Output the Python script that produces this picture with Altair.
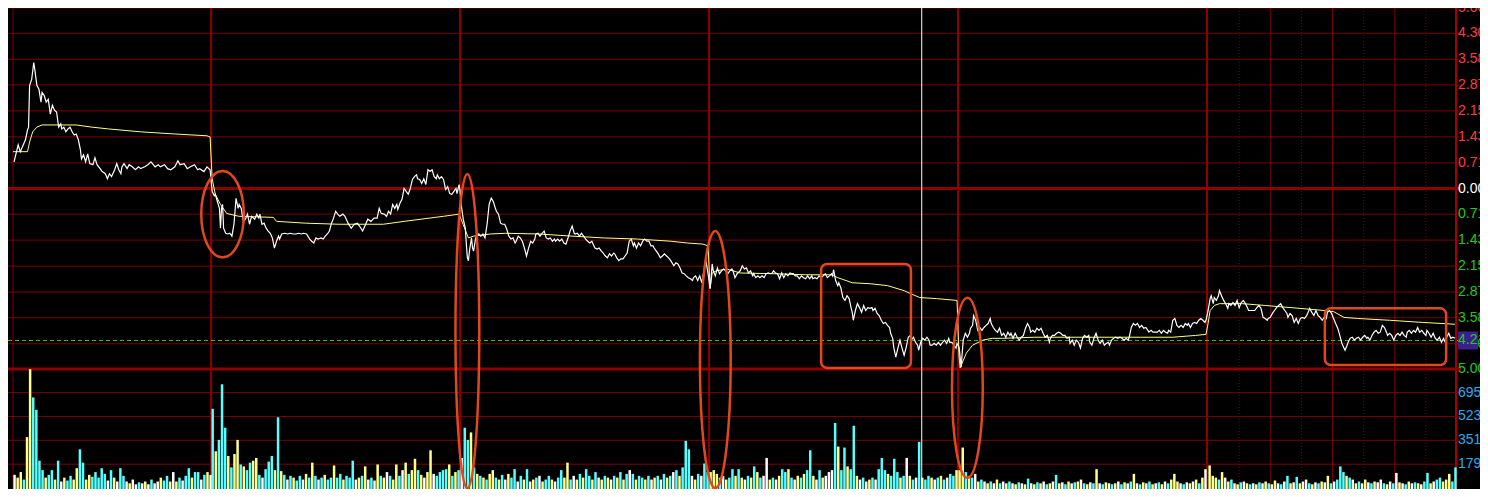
import altair as alt
import pandas as pd

# ------------------------------------------------------------------ data
SESSION_END = 1391                      # minutes shown (6 sessions, first one partial)
DAY_BREAKS = [191, 431, 671, 911, 1151]
LAST_DAY_SOLID = [1212, 1272, 1332]      # half-hour marks of the last session
LAST_DAY_DOTTED = [1182, 1242, 1302, 1362]
CURSOR_MINUTE = 876
LAST_PCT = -4.21

PRICE_TICKS = [5.0, 4.30, 3.58, 2.87, 2.15, 1.43, 0.71, 0.0,
               -0.71, -1.43, -2.15, -2.87, -3.58, -4.30, -5.0]
VOL_TICKS = [179, 351, 523, 695]

# price (% change) : (minute, pct)
P1 = [(1,0.74),(5,1.21),(7,1.02),(9,1.15),(12,1.35),(14,1.62),(15,1.70),(16,2.86),(18,3.02),(20,3.49),
      (21,3.30),(23,2.86),(25,2.75),(27,2.39),(28,2.66),(30,2.58),(32,2.39),(34,2.47),(36,2.06),(38,2.31),
      (40,2.17),(42,2.12),(44,1.70),(46,1.79),(47,1.65),(49,1.70),(51,1.57),(53,1.65),(55,1.70),(57,1.57),
      (59,1.48),(61,1.51),(63,1.35),(65,1.07),(66,0.82),(68,0.93),(70,0.74),(72,0.96),(74,0.69),(77,0.66),
      (79,0.85),(81,0.66),(84,0.55),(86,0.47),(89,0.41),(91,0.27),(93,0.41),(95,0.33),(98,0.52),(100,0.69),
      (102,0.52),(104,0.41),(105,0.60),(107,0.69),(110,0.55),(112,0.66),(115,0.60),(118,0.52),(121,0.60),
      (123,0.55),(127,0.60),(130,0.66),(133,0.74),(137,0.60),(140,0.66),(142,0.60),(146,0.66),(149,0.55),
      (152,0.52),(156,0.60),(159,0.77),(161,0.66),(165,0.69),(168,0.55),(171,0.60),(175,0.66),(178,0.52),
      (180,0.55),(184,0.47),(187,0.60),(190,0.52)]
P2 = [(192,-0.08),(194,-0.20),(195,-0.16),(197,-0.36),(199,-0.55),(200,-1.10),(201,-0.55),(202,-0.44),
      (203,-1.10),(205,-1.24),(207,-1.26),(209,-1.24),(211,-1.32),(213,-0.99),(215,-0.27),(217,-0.55),
      (218,-0.44),(220,-0.55),(222,-0.91),(224,-0.85),(226,-0.71),(228,-0.99),(230,-0.77),(233,-0.85),
      (235,-0.71),(237,-0.82),(238,-0.71),(240,-0.99),(242,-0.96),(244,-1.10),(246,-1.18),(248,-1.24),
      (250,-1.37),(252,-1.65),(254,-1.46),(256,-1.32),(257,-1.40),(259,-1.26),(262,-1.24),(265,-1.26),
      (267,-1.24),(270,-1.26),(273,-1.26),(275,-1.24),(278,-1.26),(280,-1.24),(283,-1.26),(286,-1.40),
      (288,-1.46),(290,-1.51),(292,-1.37),(294,-1.40),(297,-1.37),(299,-1.40),(301,-1.32),(303,-1.26),
      (305,-1.18),(307,-0.96),(309,-0.82),(311,-0.63),(313,-0.71),(315,-0.77),(318,-0.71),(320,-0.77),
      (323,-0.96),(326,-1.10),(329,-0.99),(332,-0.96),(334,-1.04),(337,-1.18),(340,-0.99),(342,-0.85),
      (345,-0.91),(348,-0.82),(351,-0.82),(353,-0.55),(355,-0.69),(358,-0.71),(360,-0.77),(362,-0.63),
      (364,-0.71),(366,-0.44),(368,-0.55),(370,-0.44),(371,-0.58),(373,-0.41),(375,-0.30),(377,0.0),
      (379,-0.08),(381,-0.16),(383,0.0),(385,0.25),(387,0.33),(389,0.38),(390,0.27),(392,0.25),(394,0.14),
      (396,0.27),(398,0.11),(400,0.52),(402,0.47),(404,0.52),(406,0.33),(408,0.27),(409,0.38),(411,0.27),
      (413,0.33),(415,0.25),(417,-0.03),(419,0.05),(421,-0.14),(423,-0.16),(425,-0.08),(427,0.0),
      (428,-0.14),(430,0.11)]
P3 = [(431,-0.08),(432,-0.44),(434,-0.85),(436,-1.10),(437,-1.54),(438,-1.92),(439,-2.00),(440,-1.73),
      (442,-1.37),(443,-1.65),(444,-1.73),(446,-1.37),(447,-1.32),(449,-1.26),(451,-1.32),(453,-1.26),
      (455,-1.37),(457,-0.99),(459,-0.44),(461,-0.27),(463,-0.36),(465,-0.55),(466,-0.63),(468,-0.71),
      (470,-0.96),(472,-0.99),(474,-0.99),(476,-1.13),(478,-1.32),(480,-1.40),(482,-1.37),(484,-1.51),
      (485,-1.46),(487,-1.32),(489,-1.37),(491,-1.46),(493,-1.65),(495,-1.87),(497,-1.65),(499,-1.46),
      (501,-1.51),(503,-1.40),(504,-1.26),(506,-1.24),(508,-1.32),(510,-1.24),(512,-1.18),(514,-1.37),
      (516,-1.40),(518,-1.37),(520,-1.46),(522,-1.40),(523,-1.46),(525,-1.40),(527,-1.46),(529,-1.40),
      (531,-1.51),(533,-1.54),(535,-1.37),(537,-1.18),(539,-1.04),(541,-1.24),(542,-1.26),(544,-1.24),
      (546,-1.32),(548,-1.24),(550,-1.32),(552,-1.40),(554,-1.46),(556,-1.51),(558,-1.46),(560,-1.59),
      (561,-1.65),(563,-1.68),(565,-1.65),(567,-1.73),(569,-1.79),(571,-1.87),(573,-1.92),(575,-1.81),
      (577,-1.87),(579,-1.79),(580,-1.81),(582,-1.92),(584,-2.00),(586,-1.95),(588,-1.95),(590,-1.87),
      (592,-1.79),(594,-1.46),(596,-1.40),(598,-1.59),(599,-1.51),(601,-1.65),(603,-1.51),(605,-1.59),
      (607,-1.46),(609,-1.40),(611,-1.46),(613,-1.46),(615,-1.59),(617,-1.59),(618,-1.65),(620,-1.73),
      (622,-1.81),(624,-1.92),(626,-1.87),(628,-1.81),(630,-1.87),(632,-1.92),(634,-2.00),(636,-2.09),
      (637,-2.14),(639,-2.06),(641,-2.09),(643,-2.20),(645,-2.34),(647,-2.36),(649,-2.42),(651,-2.47),
      (653,-2.50),(655,-2.55),(656,-2.47),(658,-2.42),(660,-2.55),(662,-2.42),(664,-2.61),(666,-2.28),
      (668,-2.00),(670,-2.36)]
P4 = [(672,-2.77),(674,-2.09),(675,-2.28),(677,-2.42),(679,-2.20),(681,-2.36),(683,-2.28),(685,-2.23),
      (687,-2.28),(689,-2.36),(691,-2.28),(693,-2.23),(694,-2.28),(696,-2.47),(698,-2.36),(701,-2.28),
      (703,-2.14),(705,-2.23),(707,-2.20),(709,-2.34),(711,-2.28),(713,-2.42),(714,-2.36),(716,-2.47),
      (718,-2.42),(720,-2.47),(722,-2.42),(724,-2.47),(726,-2.36),(728,-2.34),(730,-2.36),(732,-2.34),
      (733,-2.28),(735,-2.34),(737,-2.36),(739,-2.50),(741,-2.34),(743,-2.47),(745,-2.36),(747,-2.42),
      (749,-2.34),(751,-2.36),(752,-2.36),(754,-2.42),(756,-2.42),(758,-2.50),(760,-2.42),(762,-2.47),
      (764,-2.50),(766,-2.42),(768,-2.50),(770,-2.42),(771,-2.50),(773,-2.47),(775,-2.50),(777,-2.42),
      (779,-2.47),(781,-2.42),(783,-2.36),(785,-2.47),(787,-2.42),(789,-2.36),(790,-2.42),(791,-2.25),
      (793,-2.55),(795,-2.69),(796,-2.61),(798,-2.75),(800,-3.02),(802,-3.10),(804,-2.97),(806,-3.05),
      (808,-3.32),(809,-3.43),(810,-3.65),(812,-3.38),(814,-3.19),(816,-3.30),(818,-3.43),(820,-3.24),
      (822,-3.38),(824,-3.30),(826,-3.32),(828,-3.30),(829,-3.38),(831,-3.32),(833,-3.46),(835,-3.52),
      (837,-3.65),(839,-3.74),(841,-3.71),(843,-3.79),(845,-3.85),(846,-4.01),(848,-4.15),(849,-4.40),
      (851,-4.67),(853,-4.42),(855,-4.20),(857,-4.42),(859,-4.62),(861,-4.40),(863,-4.12),(865,-4.07),
      (866,-4.20),(868,-4.12),(870,-4.26),(872,-4.34),(873,-4.48),(875,-4.26),(877,-4.15),(879,-4.20),
      (881,-4.12),(883,-4.20),(884,-4.34),(886,-4.34),(888,-4.29),(890,-4.34),(892,-4.26),(894,-4.34),
      (896,-4.26),(898,-4.20),(900,-4.29),(902,-4.15),(903,-4.26),(905,-4.26),(907,-4.34),(909,-4.42),
      (910,-4.29)]
P5 = [(912,-4.40),(913,-4.67),(914,-4.95),(915,-4.56),(916,-4.20),(918,-4.01),(920,-4.12),(922,-4.01),
      (923,-3.87),(925,-3.79),(926,-3.52),(928,-3.65),(930,-3.93),(932,-3.85),(934,-3.93),(936,-3.85),
      (938,-3.79),(940,-3.74),(942,-3.60),(943,-3.74),(945,-3.85),(947,-3.93),(949,-3.98),(951,-3.87),
      (953,-4.07),(955,-4.01),(957,-4.12),(959,-3.98),(961,-4.07),(962,-4.01),(964,-4.15),(966,-4.01),
      (968,-4.12),(970,-4.20),(972,-4.12),(974,-4.07),(976,-3.87),(978,-3.74),(980,-3.85),(981,-3.98),
      (983,-3.93),(985,-3.98),(987,-3.87),(989,-3.93),(991,-3.87),(993,-4.01),(995,-4.12),(997,-4.07),
      (999,-4.26),(1000,-4.15),(1002,-4.07),(1004,-4.07),(1006,-4.01),(1008,-3.98),(1010,-4.01),
      (1012,-4.07),(1014,-4.07),(1016,-4.15),(1018,-4.12),(1019,-4.29),(1021,-4.20),(1023,-4.34),
      (1025,-4.20),(1027,-4.26),(1029,-4.42),(1031,-4.15),(1033,-4.07),(1035,-4.12),(1037,-4.07),
      (1038,-4.26),(1040,-4.34),(1042,-4.15),(1044,-4.01),(1046,-4.20),(1048,-4.29),(1050,-4.20),
      (1052,-4.34),(1054,-4.29),(1056,-4.26),(1057,-4.34),(1059,-4.20),(1061,-4.15),(1063,-4.12),
      (1065,-4.15),(1067,-4.12),(1069,-4.15),(1071,-4.20),(1073,-4.15),(1075,-4.20),(1076,-4.12),
      (1078,-3.85),(1080,-3.74),(1082,-3.79),(1084,-3.74),(1086,-3.85),(1088,-3.79),(1090,-3.87),
      (1092,-3.85),(1094,-3.93),(1095,-3.98),(1097,-3.93),(1099,-3.98),(1101,-3.98),(1103,-3.98),
      (1105,-3.93),(1107,-4.01),(1109,-3.93),(1111,-3.98),(1113,-4.01),(1114,-3.93),(1116,-3.98),
      (1118,-3.65),(1120,-3.60),(1122,-3.79),(1124,-3.85),(1126,-3.79),(1128,-3.85),(1130,-3.74),
      (1132,-3.79),(1133,-3.74),(1135,-3.85),(1137,-3.74),(1139,-3.71),(1141,-3.74),(1143,-3.65),
      (1145,-3.60),(1147,-3.65),(1149,-3.71),(1150,-3.65)]
P6 = [(1152,-3.38),(1154,-3.05),(1155,-2.97),(1157,-3.19),(1158,-3.02),(1160,-3.10),(1162,-2.97),
      (1163,-2.83),(1165,-2.97),(1167,-3.10),(1169,-3.19),(1171,-3.32),(1172,-3.19),(1174,-3.24),
      (1176,-3.16),(1178,-3.24),(1180,-3.10),(1182,-3.30),(1184,-3.16),(1186,-3.10),(1188,-3.19),
      (1190,-3.30),(1191,-3.38),(1193,-3.38),(1195,-3.38),(1197,-3.38),(1199,-3.30),(1201,-3.24),
      (1203,-3.32),(1205,-3.57),(1207,-3.60),(1209,-3.65),(1210,-3.60),(1212,-3.57),(1214,-3.46),
      (1216,-3.38),(1218,-3.30),(1220,-3.24),(1222,-3.19),(1224,-3.30),(1226,-3.38),(1228,-3.46),
      (1229,-3.57),(1231,-3.46),(1233,-3.52),(1235,-3.71),(1237,-3.60),(1239,-3.74),(1241,-3.60),
      (1243,-3.57),(1245,-3.60),(1247,-3.52),(1248,-3.46),(1250,-3.32),(1252,-3.43),(1254,-3.52),
      (1256,-3.38),(1258,-3.52),(1260,-3.57),(1262,-3.65),(1264,-3.57),(1266,-3.60),(1267,-3.43),
      (1269,-3.38),(1271,-3.46),(1273,-3.60),(1275,-3.74),(1277,-3.87),(1279,-4.07),(1281,-4.29),
      (1283,-4.42),(1284,-4.48),(1286,-4.34),(1287,-4.26),(1289,-4.15),(1291,-4.12),(1293,-4.20),
      (1295,-4.15),(1297,-4.12),(1299,-4.20),(1301,-4.12),(1303,-4.07),(1305,-4.15),(1306,-4.12),
      (1308,-4.20),(1310,-4.07),(1312,-3.98),(1314,-3.93),(1316,-4.01),(1318,-3.98),(1320,-3.79),
      (1322,-3.85),(1324,-3.98),(1325,-4.07),(1327,-4.01),(1329,-4.07),(1331,-4.20),(1333,-4.07),
      (1335,-4.01),(1337,-4.07),(1339,-3.98),(1341,-4.07),(1343,-4.12),(1344,-3.98),(1346,-3.93),
      (1348,-4.01),(1350,-3.93),(1352,-3.98),(1354,-3.85),(1356,-3.98),(1358,-3.93),(1360,-4.01),
      (1362,-4.07),(1363,-3.93),(1365,-4.01),(1367,-4.12),(1369,-4.01),(1371,-4.15),(1373,-4.20),
      (1375,-4.12),(1377,-4.26),(1379,-4.15),(1381,-4.29),(1382,-4.12),(1384,-4.01),(1386,-4.15),
      (1388,-4.12),(1390,-4.15)]

# average-price line : (minute, pct)
AVG = [(0,1.02),(14,1.02),(16,1.29),(19,1.57),(23,1.70),(28,1.76),(61,1.76),(76,1.70),(92,1.65),
       (123,1.57),(156,1.51),(187,1.46),(190,1.43),
       (192,0.27),(195,-0.16),(200,-0.44),(206,-0.69),(213,-0.74),(218,-0.77),(251,-0.80),(254,-0.91),
       (282,-0.96),(314,-0.99),(357,-0.99),(377,-0.91),(415,-0.77),(430,-0.71),
       (434,-1.00),(439,-1.37),(444,-1.32),(460,-1.26),(475,-1.24),(507,-1.26),(539,-1.32),(570,-1.37),
       (602,-1.40),(634,-1.46),(650,-1.51),(665,-1.54),(670,-1.59),
       (672,-2.77),(674,-2.34),(678,-2.28),(688,-2.23),(701,-2.34),(732,-2.36),(764,-2.39),(789,-2.39),
       (795,-2.47),(809,-2.61),(827,-2.64),(843,-2.69),(859,-2.83),(865,-2.91),(874,-3.02),(890,-3.05),
       (910,-3.10),
       (912,-4.67),(913,-4.97),(919,-4.56),(925,-4.34),(935,-4.20),(944,-4.15),(954,-4.15),(985,-4.12),
       (1017,-4.12),(1061,-4.12),(1087,-4.12),(1118,-4.12),(1140,-4.07),(1150,-4.04),
       (1152,-3.74),(1154,-3.38),(1158,-3.24),(1163,-3.19),(1185,-3.19),(1207,-3.24),(1232,-3.30),
       (1264,-3.38),(1273,-3.41),(1283,-3.57),(1296,-3.60),(1327,-3.65),(1359,-3.71),(1390,-3.76)]

# volume, one bar per 3-minute slot, per session; kind c=down, y=up, w=flat
VOL_DAY_STARTS = [0, 191, 431, 671, 911, 1152]
VOL_SLOT = 3
V1 = [102,82,122,68,374,864,660,571,204,136,82,102,136,68,204,54,82,61,95,68,150,286,190,68,102,88,122,82,
      150,109,61,136,82,54,150,95,54,41,68,34,48,41,54,34,68,41,54,82,61,95,54,122,54,82,61,95,150,82,122,
      122,68,102,122,102]
K1 = "wyycyycccc" "yccycwyccy" "yccyyccccc" "wcywccwyww" "cwywcwwycc" "ywycwccycc" "wcyw"
V2 = [578,272,354,755,442,238,156,252,354,177,163,136,190,204,224,102,82,143,197,238,136,517,129,102,68,95,
      82,61,95,68,109,82,190,95,68,82,102,68,82,170,82,109,68,95,82,204,68,82,95,163,68,82,61,177,95,82,122,
      95,68,177,95,136,190,109,136,218,136,102,82,122,279,109,95,122,136,143,177,95,122,136]
K2 = "cycccycyyc" "yccyycwccc" "ycycwcyccw" "ycycwcyccy" "ccycccwycy" "wcwycywcyy" "cwycyycywy" "ywccccycyc"
V3 = [224,442,354,408,156,109,95,82,68,109,136,82,68,102,68,109,82,143,54,95,68,143,54,68,82,95,54,68,95,68,
      54,82,136,82,190,68,95,68,109,82,143,95,68,122,82,68,95,82,68,95,82,122,68,109,136,109,68,95,82,68,95,
      68,82,95,68,109,82,95,122,136,95,156,347,286,95,68,109,95,184,122]
K3 = "wccycycycy" "ycycwyccwc" "ycwycwyccy" "wccyycwycy" "ccycwycywc" "ycycwcyccy" "cwycwcycwc" "ycccwycwcc"
V4 = [122,136,109,82,95,68,82,143,95,143,82,68,95,82,163,122,82,95,224,68,82,68,95,143,122,143,82,68,95,82,
      109,136,279,95,68,136,82,95,122,136,476,306,136,299,163,143,456,95,68,82,54,68,82,68,143,224,136,109,
      95,218,122,82,95,224,95,68,82,340,82,68,95,82,68,82,95,68,82,109,95,136]
K4 = "yyycwyccyc" "ywcycycwwy" "cwyccycwyc" "yccywcywww" "cyccyccywc" "wycwcccycc" "cycwycwcyc" "cywcycwccy"
V5 = [136,299,122,95,82,109,54,68,54,41,54,41,68,41,54,41,54,41,34,48,41,34,75,41,34,48,41,54,34,41,54,102,
      41,48,34,54,41,48,54,68,41,34,48,41,143,41,34,48,41,34,41,54,34,48,41,54,109,41,34,48,41,54,34,41,48,
      34,54,41,68,109,54,41,34,48,41,54,68,41,82,143]
K5 = "yycycwycwy" "cwycwycwyc" "wycwycywcy" "wcywcywcyw" "cywcywcywc" "ywcywcywcy" "wcywcywcyy" "ywcwywycyw"
V6 = [170,95,82,68,122,82,54,68,41,34,48,54,41,34,41,34,48,41,54,41,34,61,41,34,54,95,41,48,88,41,54,68,41,
      34,48,41,54,48,95,41,54,68,163,122,95,82,68,41,54,41,68,48,41,54,48,68,41,34,54,41,116,48,41,34,54,41,
      48,41,34,54,116,41,54,68,82,54,68,109,54,156]
K6 = "yyycywycwy" "cwycwycwyc" "wywcwcywcy" "wwcywcywyc" "wcccycwycw" "ywcywwcywc" "wywcywcywc" "cywccyyycc"

# annotations (data coordinates: minute, pct)
ELLIPSE_CENTERS = [(202, -0.71), (438, -3.95), (677, -4.74), (920, -5.52)]
BOXES = [(779, 865.6, -2.09, -4.97), (1264.6, 1381.5, -3.32, -4.89)]

# ------------------------------------------------------------------ styles
BG = "#000000"
GRID = "#7a0000"
THICK = "#900000"
BORDER_R = "#a80000"
RED_T = "#ff3c3c"
GREEN_T = "#1ccc1c"
CYAN_T = "#25aef0"
ANN = "#e2481c"
AVG_C = "#ffff82"
PURPLE = "#3b1f8c"
FONT = "Liberation Sans"
LABEL_SIZE = 14
ELLIPSE_PX = [(21.3, 43.2), (11.9, 157.2), (15.4, 128.5), (15.4, 90.1)]   # (rx, ry) in px

PLOT_W, PLOT_H = 1453, 481
PRICE_DOMAIN = [-8.324, 5.0]
VOL_DOMAIN = [0, 3468]

xs = alt.Scale(domain=[0, SESSION_END], nice=False, zero=False)
ps = alt.Scale(domain=PRICE_DOMAIN, nice=False, zero=False)
vs = alt.Scale(domain=VOL_DOMAIN, nice=False, zero=False)


def X(f="m"):
    return alt.X(f"{f}:Q", scale=xs, axis=None)


def YP(f="p"):
    return alt.Y(f"{f}:Q", scale=ps, axis=None)


def YV(f="v"):
    return alt.Y(f"{f}:Q", scale=vs, axis=None, stack=None)


def ellipse_path(r):
    k = 0.5523
    return (f"M 0 -1 C {k*r:.4f} -1 {r:.4f} {-k:.4f} {r:.4f} 0 "
            f"C {r:.4f} {k:.4f} {k*r:.4f} 1 0 1 "
            f"C {-k*r:.4f} 1 {-r:.4f} {k:.4f} {-r:.4f} 0 "
            f"C {-r:.4f} {-k:.4f} {-k*r:.4f} -1 0 -1 Z")


# ------------------------------------------------------------------ frames
price_df = pd.DataFrame(P1 + P2 + P3 + P4 + P5 + P6, columns=["m", "p"])
avg_df = pd.DataFrame(AVG, columns=["m", "p"])

rows = []
for start, vals, kinds in zip(VOL_DAY_STARTS, [V1, V2, V3, V4, V5, V6], [K1, K2, K3, K4, K5, K6]):
    for i, (v, k) in enumerate(zip(vals, kinds)):
        rows.append({"m": start + VOL_SLOT * i + 1.5, "v": v, "k": k})
vol_df = pd.DataFrame(rows)

ptick_df = pd.DataFrame({"p": PRICE_TICKS,
                         "lab": [f"{abs(v):.2f}%" for v in PRICE_TICKS],
                         "m": [SESSION_END] * len(PRICE_TICKS)})
vtick_df = pd.DataFrame({"v": VOL_TICKS, "lab": [str(v) for v in VOL_TICKS],
                         "m": [SESSION_END] * len(VOL_TICKS)})

# ------------------------------------------------------------------ background (price scale)
price_grid = alt.Chart(ptick_df).mark_rule(color=GRID, strokeWidth=1).encode(y=YP())
zero_line = alt.Chart(pd.DataFrame({"p": [0.0]})).mark_rule(color=THICK, strokeWidth=3).encode(y=YP())
panel_sep = alt.Chart(pd.DataFrame({"p": [-5.0]})).mark_rule(color=THICK, strokeWidth=3).encode(y=YP())
day_sep = alt.Chart(pd.DataFrame({"m": DAY_BREAKS})).mark_rule(color=THICK, strokeWidth=2).encode(x=X())
sub_solid = alt.Chart(pd.DataFrame({"m": LAST_DAY_SOLID})).mark_rule(color=GRID, strokeWidth=1).encode(x=X())
sub_dot = alt.Chart(pd.DataFrame({"m": LAST_DAY_DOTTED})).mark_rule(
    color=GRID, strokeWidth=1, strokeDash=[1, 2]).encode(x=X())
left_b = alt.Chart(pd.DataFrame({"m": [0]})).mark_rule(color=GRID, strokeWidth=1).encode(x=X())
right_b = alt.Chart(pd.DataFrame({"m": [SESSION_END]})).mark_rule(color=BORDER_R, strokeWidth=2).encode(x=X())

background = alt.layer(price_grid, day_sep, sub_solid, sub_dot, left_b, right_b, zero_line, panel_sep)

# ------------------------------------------------------------------ volume panel
vol_grid = alt.Chart(vtick_df).mark_rule(color=GRID, strokeWidth=1).encode(y=YV())
vol_bars = alt.Chart(vol_df).mark_bar(size=2.5, orient="vertical").encode(
    x=X(), y=YV(),
    color=alt.Color("k:N", scale=alt.Scale(domain=["c", "y", "w"],
                                           range=["#55ffff", "#ffff88", "#ffffff"]), legend=None))
vol_labels = alt.Chart(vtick_df).mark_text(
    align="left", baseline="middle", dx=2, fontSize=LABEL_SIZE, font=FONT, color=CYAN_T
).encode(x=X(), y=YV(), text="lab:N")
volume = alt.layer(vol_grid, vol_bars, vol_labels)

# ------------------------------------------------------------------ foreground (price scale)
last_line = alt.Chart(pd.DataFrame({"p": [LAST_PCT]})).mark_rule(
    color="#2ccc2c", strokeWidth=1, strokeDash=[4, 3]).encode(y=YP())
avg_line = alt.Chart(avg_df).mark_line(color=AVG_C, strokeWidth=1, interpolate="linear").encode(x=X(), y=YP())
price_line = alt.Chart(price_df).mark_line(color="#ffffff", strokeWidth=1.2,
                                           interpolate="linear").encode(x=X(), y=YP())
cursor = alt.Chart(pd.DataFrame({"m": [CURSOR_MINUTE]})).mark_rule(
    color="#ffffff", strokeWidth=1).encode(x=X())

ellipses = []
for (cm, cp), (rx, ry) in zip(ELLIPSE_CENTERS, ELLIPSE_PX):
    ellipses.append(
        alt.Chart(pd.DataFrame({"m": [cm], "p": [cp]})).mark_point(
            shape=ellipse_path(rx / ry), size=4 * ry * ry, filled=False,
            stroke=ANN, strokeWidth=2.5, opacity=1
        ).encode(x=X(), y=YP()))

box_df = pd.DataFrame(BOXES, columns=["m", "m2", "p", "p2"])
boxes = alt.Chart(box_df).mark_rect(filled=False, stroke=ANN, strokeWidth=2.5, cornerRadius=6).encode(
    x=X(), x2=alt.X2("m2:Q"), y=YP(), y2=alt.Y2("p2:Q"))

lab_common = dict(align="left", baseline="middle", dx=2, fontSize=LABEL_SIZE, font=FONT)
lab_pos = alt.Chart(ptick_df).transform_filter("datum.p > 0.001").mark_text(
    color=RED_T, **lab_common).encode(x=X(), y=YP(), text="lab:N")
lab_zero = alt.Chart(ptick_df).transform_filter("abs(datum.p) <= 0.001").mark_text(
    color="#ffffff", **lab_common).encode(x=X(), y=YP(), text="lab:N")
lab_neg = alt.Chart(ptick_df).transform_filter("datum.p < -0.001").mark_text(
    color=GREEN_T, **lab_common).encode(x=X(), y=YP(), text="lab:N")

last_df = pd.DataFrame({"m": [SESSION_END], "p": [LAST_PCT], "lab": [f"{abs(LAST_PCT):.2f}%"]})
last_box = alt.Chart(last_df).mark_rect(color=PURPLE, xOffset=2, x2Offset=22, yOffset=-9, y2Offset=9).encode(
    x=X(), x2=alt.X2("m:Q"), y=YP(), y2=alt.Y2("p:Q"))
last_lab = alt.Chart(last_df).mark_text(color=GREEN_T, **lab_common).encode(x=X(), y=YP(), text="lab:N")

foreground = alt.layer(last_line, avg_line, price_line, cursor, *ellipses, boxes,
                       lab_pos, lab_zero, lab_neg, last_box, last_lab)

chart = alt.layer(background, volume, foreground).resolve_scale(y="independent").properties(
    width=PLOT_W, height=PLOT_H,
    autosize=alt.AutoSizeParams(type="none"),
    padding={"left": 0, "top": 0, "right": 19, "bottom": 0},
    background=BG,
).configure_view(strokeWidth=0)

chart.save("out.html", embed_options={"renderer": "svg", "actions": False})
